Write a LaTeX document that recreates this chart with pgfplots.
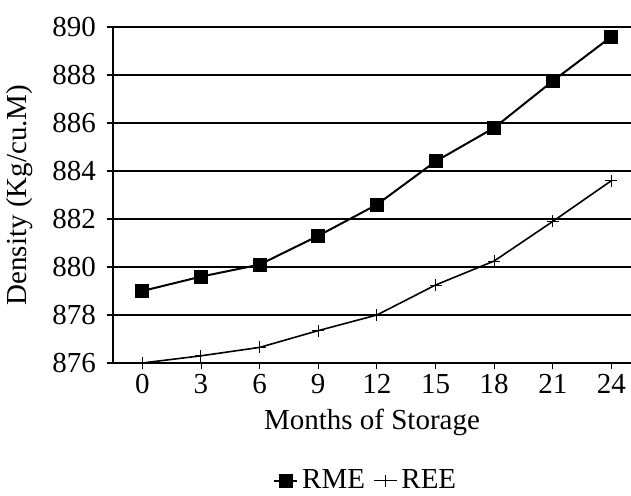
\documentclass[border=0pt]{standalone}
\usepackage{fontspec}
\setmainfont{Liberation Serif}
\usepackage{pgfplots}
\pgfplotsset{compat=1.18}

\begin{document}
\begin{tikzpicture}
\begin{axis}[
  scale only axis,
  width=259pt, height=168pt,
  xmin=-1.5, xmax=25,
  ymin=876, ymax=890,
  xtick={0,3,...,24},
  ytick={876,878,...,890},
  axis x line*=bottom,
  axis y line*=left,
  axis line style={line width=1pt},
  ymajorgrids,
  grid style={black,line width=1pt},
  y tick style={black,line width=1pt},
  x tick style={black,line width=0.4pt},
  major tick length=3pt,
  tick align=outside,
  x tick label style={yshift=1pt},
  y tick label style={xshift=-2pt},
  font=\fontsize{14.5}{16}\selectfont,
  tick label style={font=\fontsize{14.5}{16}\selectfont},
  /pgf/number format/assume math mode=true,
  /pgf/number format/1000 sep={},
  xlabel={Months of Storage},
  ylabel={Density (Kg/cu.M)},
  xlabel style={yshift=-1pt},
  ylabel style={at={(axis description cs:-0.18,0.5)}, anchor=center},
  clip=false,
  legend style={draw=none, at={(0.49,-0.35)}, anchor=center,
    legend columns=2, font=\fontsize{14.5}{16}\selectfont,
    /tikz/every even column/.append style={column sep=2pt},
    inner sep=0pt},
  legend image code/.code={\draw[mark repeat=2,mark phase=2] plot coordinates {(0cm,0cm)(0.2cm,0cm)(0.4cm,0cm)};},
]
\addplot[black, line width=1pt, mark=square*, mark size=3pt, mark options={solid}]
  coordinates {(0,879.0)(3,879.6)(6,880.1)(9,881.3)(12,882.6)(15,884.4)(18,885.8)(21,887.75)(24,889.6)};
\addlegendentry{RME}
\addplot[black, line width=0.8pt, mark=+, mark size=3pt, mark options={line width=0.5pt}]
  coordinates {(0,876.0)(3,876.3)(6,876.65)(9,877.35)(12,878.0)(15,879.25)(18,880.25)(21,881.9)(24,883.6)};
\addlegendentry{REE}
\end{axis}
\pgfresetboundingbox
\path ([shift={(-56.5pt,-66pt)}]current axis.south west) rectangle ([shift={(259pt,181.5pt)}]current axis.south west);
\end{tikzpicture}
\end{document}
